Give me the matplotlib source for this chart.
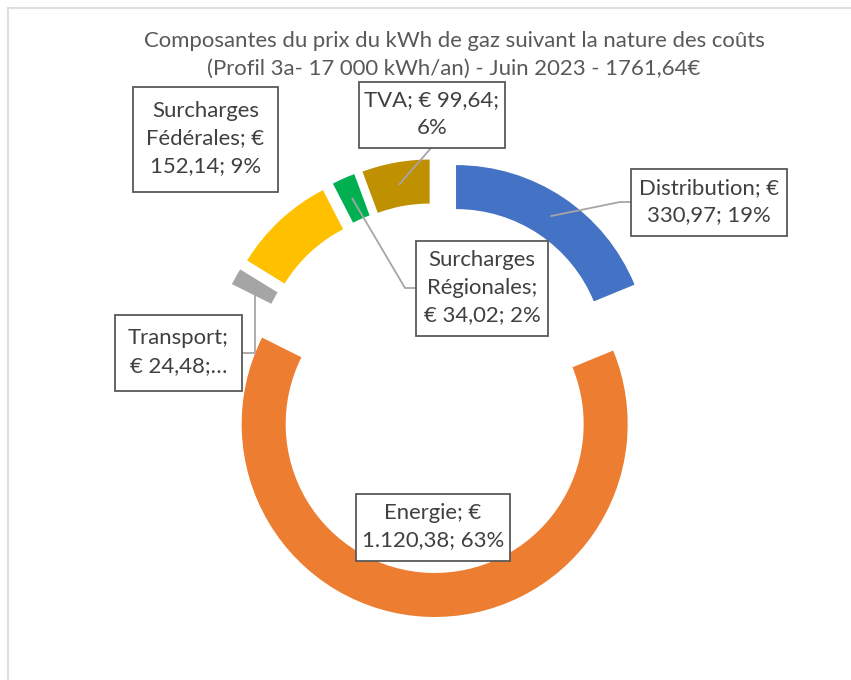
import matplotlib
matplotlib.use("Agg")
import matplotlib.pyplot as plt
from matplotlib.patches import Rectangle
from matplotlib.lines import Line2D
import numpy as np

plt.rcParams['font.family'] = ['Lato', 'DejaVu Sans']

# Gas price components, June 2023 (profile 3a, 17 000 kWh/year)
categories = ["Distribution", "Energie", "Transport",
              "Surcharges Fédérales", "Surcharges Régionales", "TVA"]
values = [330.97, 1120.38, 24.48, 152.14, 34.02, 99.64]
colors = ["#4472C4", "#ED7D31", "#A5A5A5", "#FFC000", "#00B050", "#BF9000"]
label_texts = [
    "Distribution; €\n330,97; 19%",
    "Energie; €\n1.120,38; 63%",
    "Transport;\n€ 24,48;…",
    "Surcharges\nFédérales; €\n152,14; 9%",
    "Surcharges\nRégionales;\n€ 34,02; 2%",
    "TVA; € 99,64;\n6%",
]
title_lines = ["Composantes du prix du kWh de gaz suivant la nature des coûts",
               "(Profil 3a- 17 000 kWh/an) - Juin 2023 - 1761,64€"]

W, H = 851, 680
R_PX = 193.0          # outer radius in pixels
CX, CY = 436.0, 388.0  # pie centre in pixels (from top-left)
FS = 15.9
TXT = "#404040"


def to_data(px, py):
    return (px - CX) / R_PX, (CY - py) / R_PX


fig = plt.figure(figsize=(W / 100, H / 100), dpi=100)
ax = fig.add_axes([0, 0, 1, 1])

wedges, _ = ax.pie(values, colors=colors, startangle=90, counterclock=False,
                   radius=1.0, explode=[36 / R_PX] * len(values),
                   wedgeprops=dict(width=44 / R_PX, linewidth=0))

ax.set_xlim(-CX / R_PX, (W - CX) / R_PX)
ax.set_ylim(-(H - CY) / R_PX, CY / R_PX)
ax.set_aspect('auto')
ax.axis('off')

# chart-area frame (left and top edges visible)
fig.add_artist(Line2D([7.5 / W, 7.5 / W], [0, 1 - 7.5 / H], transform=fig.transFigure,
                      color="#D9D9D9", lw=1.2))
fig.add_artist(Line2D([7.5 / W, 1], [1 - 7.5 / H, 1 - 7.5 / H], transform=fig.transFigure,
                      color="#D9D9D9", lw=1.2))

# title
for i, line in enumerate(title_lines):
    fig.text(454 / W, 1 - (41 + 28 * i) / H, line, ha='center', va='center',
             fontsize=FS, color="#595959")

# label boxes: (left, top, right, bottom) in pixels
boxes = {
    "Distribution": (631, 169, 787, 236),
    "Energie": (356, 494, 510, 561),
    "Transport": (115, 315, 242, 391),
    "Surcharges Fédérales": (133, 87, 278, 192),
    "Surcharges Régionales": (416, 241, 548, 336),
    "TVA": (359, 82, 505, 148),
}

for cat, txt in zip(categories, label_texts):
    l, t, r, b = boxes[cat]
    x0, y1 = to_data(l, t)
    x1, y0 = to_data(r, b)
    ax.add_patch(Rectangle((x0, y0), x1 - x0, y1 - y0, facecolor="white",
                           edgecolor="#595959", lw=1.3, zorder=5))
    ax.text((x0 + x1) / 2, (y0 + y1) / 2 + 0.005, txt, ha='center', va='center',
            multialignment='center', fontsize=FS, color=TXT, zorder=6,
            linespacing=1.45)


def anchor(w):
    """Mid-angle point at mid-ring radius of an exploded wedge."""
    th = np.deg2rad((w.theta1 + w.theta2) / 2)
    rm = w.r - w.width / 2
    return w.center[0] + rm * np.cos(th), w.center[1] + rm * np.sin(th)


wmap = dict(zip(categories, wedges))
LC = "#A6A6A6"

# Distribution: elbow to left side of its box
ax_, ay_ = anchor(wmap["Distribution"])
ex, ey = to_data(620, 202)
bx, _ = to_data(631, 202)
ax.plot([ax_, ex, bx], [ay_, ey, ey], color=LC, lw=1.3, zorder=4)

# TVA: straight to box bottom
ax_, ay_ = anchor(wmap["TVA"])
bx, by = to_data(431, 148)
ax.plot([ax_, bx], [ay_, by], color=LC, lw=1.3, zorder=4)

# Surcharges Régionales: elbow to left side of its box
ax_, ay_ = anchor(wmap["Surcharges Régionales"])
ex, ey = to_data(405, 288)
bx, _ = to_data(416, 288)
ax.plot([ax_, ex, bx], [ay_, ey, ey], color=LC, lw=1.3, zorder=4)

# Transport: vertical drop then horizontal to right side of its box
ax_, ay_ = anchor(wmap["Transport"])
_, ey = to_data(0, 353)
bx, _ = to_data(242, 353)
ax.plot([ax_, ax_, bx], [ay_, ey, ey], color=LC, lw=1.3, zorder=4)

fig.savefig("out.png", dpi=100)
